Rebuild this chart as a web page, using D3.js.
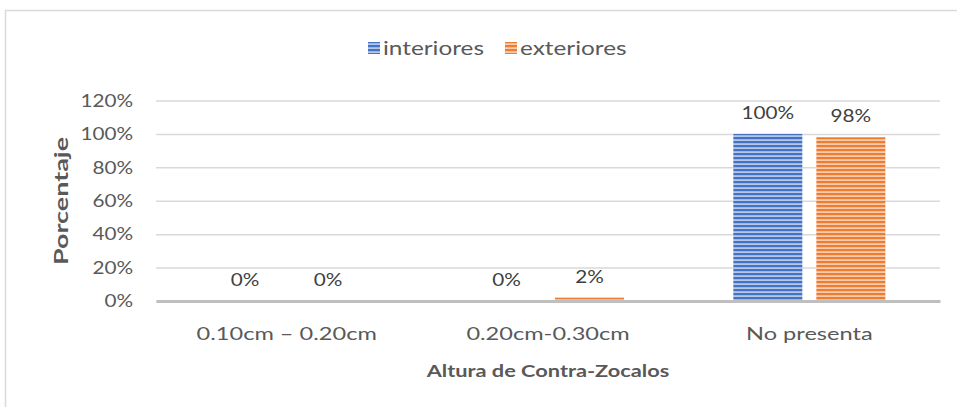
<!DOCTYPE html>
<html><head><meta charset="utf-8">
<script src="https://cdn.jsdelivr.net/npm/d3@7"></script>
<style>body{margin:0;background:#fff}svg{display:block}text{font-family:Lato,"Open Sans",sans-serif}</style>
</head><body><svg id="c" width="957" height="407"></svg>
<script>
const categories = ["0.10cm – 0.20cm", "0.20cm-0.30cm", "No presenta"];
const seriesNames = ["interiores", "exteriores"];
const interiores = [0, 0, 100];
const exteriores = [0, 2, 98];
const yTicks = [0, 20, 40, 60, 80, 100, 120];

const svg = d3.select("#c");
const W = 957, H = 407;
const m = {left:156, right:940, top:100.5, bottom:301};
const colors = ["#4472c4", "#ed7d31"];
const light = ["#b4c7e7", "#f8cbad"];

function stretch(sel, f){
  sel.each(function(){
    const w = this.getComputedTextLength();
    d3.select(this).attr("textLength", w*f).attr("lengthAdjust","spacingAndGlyphs");
  });
}

svg.append("rect").attr("x",5.5).attr("y",10.5).attr("width",W+10).attr("height",H+10)
  .attr("fill","#fff").attr("stroke","#d9d9d9").attr("stroke-width",1.5);

const defs = svg.append("defs");
colors.forEach((c,i)=>{
  const p = defs.append("pattern").attr("id","pat"+i).attr("patternUnits","userSpaceOnUse")
    .attr("x",0).attr("y",1).attr("width",4).attr("height",4);
  p.append("rect").attr("width",4).attr("height",4).attr("fill",light[i]);
  p.append("rect").attr("width",4).attr("height",2.2).attr("fill",c);
});

const x0 = d3.scaleBand().domain(categories).range([m.left, m.right]).paddingInner(0).paddingOuter(0);
const groupW = 152, off = (x0.bandwidth()-groupW)/2;
const x1 = d3.scaleBand().domain(seriesNames).range([off, off+groupW]).paddingInner(0.169).paddingOuter(0);
const y = d3.scaleLinear().domain([0,120]).range([m.bottom, m.top]);

// gridlines
const yAxis = d3.axisLeft(y).tickValues(yTicks).tickSize(-(m.right-m.left)).tickFormat(d=>d+"%");
const gy = svg.append("g").attr("transform",`translate(${m.left},0)`).call(yAxis);
gy.select(".domain").remove();
gy.selectAll(".tick line").attr("stroke","#d9d9d9").attr("stroke-width",1.5);
gy.selectAll(".tick text").attr("fill","#595959").style("font-size","18px").attr("x",-23);
stretch(gy.selectAll(".tick text"), 1.15);

const data = [interiores, exteriores];
seriesNames.forEach((s,i)=>{
  svg.append("g").selectAll("rect").data(categories).join("rect")
    .attr("x", c=>x0(c)+x1(s))
    .attr("width", x1.bandwidth())
    .attr("y", (c,j)=>y(data[i][j]))
    .attr("height", (c,j)=>y(0)-y(data[i][j]))
    .attr("fill", `url(#pat${i})`);
  const t = svg.append("g").selectAll("text").data(categories).join("text")
    .attr("x", c=>x0(c)+x1(s)+x1.bandwidth()/2)
    .attr("y", (c,j)=>y(data[i][j])-15)
    .attr("text-anchor","middle").attr("fill","#404040").style("font-size","18px")
    .text((c,j)=>data[i][j]+"%");
  stretch(t, 1.15);
});

// x axis
const gx = svg.append("g").attr("transform",`translate(0,${m.bottom})`)
  .call(d3.axisBottom(x0).tickSize(0).tickPadding(26));
gx.select(".domain").attr("stroke","#bfbfbf").attr("stroke-width",3);
gx.selectAll(".tick text").attr("fill","#595959").style("font-size","18px");
stretch(gx.selectAll(".tick text"), 1.31);

// axis titles
const xt = svg.append("text").attr("x",(m.left+m.right)/2).attr("y",377).attr("text-anchor","middle")
  .attr("fill","#595959").style("font-size","17px").style("font-weight","bold").text("Altura de Contra-Zocalos");
stretch(xt, 1.28);
const yt = svg.append("text").attr("transform","translate(68,201) rotate(-90)").attr("text-anchor","middle")
  .attr("fill","#595959").style("font-size","18px").style("font-weight","bold").text("Porcentaje");
stretch(yt, 128/yt.node().getComputedTextLength());

// legend
const leg = svg.append("g");
const legX = [368, 505];
seriesNames.forEach((s,i)=>{
  leg.append("rect").attr("x",legX[i]).attr("y",42).attr("width",12).attr("height",12).attr("fill",`url(#pat${i})`);
  const t = leg.append("text").attr("x",legX[i]+15).attr("y",55).attr("fill","#595959").style("font-size","19px").text(s);
  stretch(t, 1.28);
});
</script></body></html>
